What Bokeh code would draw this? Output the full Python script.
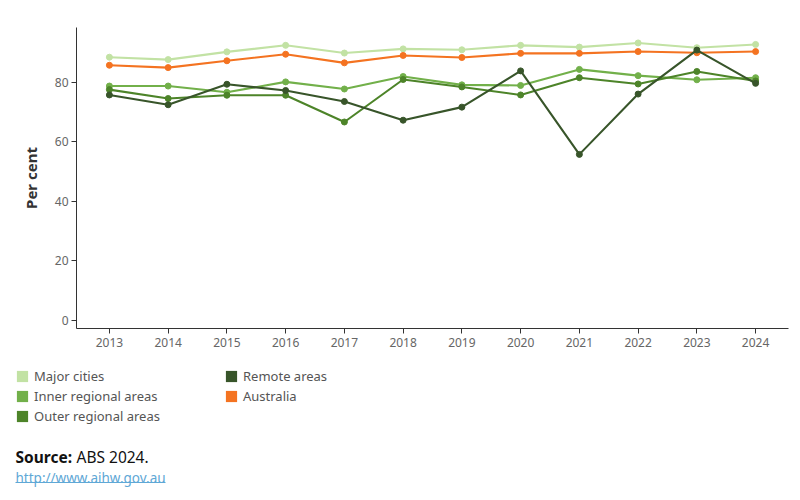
from bokeh.plotting import figure
from bokeh.layouts import column, row
from bokeh.models import (Range1d, FixedTicker, Legend, LegendItem, Label,
                          ColumnDataSource)
from bokeh.embed import file_html
from bokeh.resources import INLINE

years = [2013, 2014, 2015, 2016, 2017, 2018, 2019, 2020, 2021, 2022, 2023, 2024]
major_cities = [88.5, 87.7, 90.3, 92.5, 89.9, 91.3, 91.0, 92.5, 91.9, 93.3, 91.7, 92.8]
inner_regional = [78.8, 78.8, 76.7, 80.2, 77.8, 82.0, 79.2, 79.0, 84.4, 82.3, 80.9, 81.6]
outer_regional = [77.6, 74.6, 75.7, 75.7, 66.7, 81.0, 78.5, 75.8, 81.6, 79.5, 83.7, 80.5]
remote = [75.8, 72.5, 79.4, 77.3, 73.6, 67.3, 71.7, 83.9, 55.8, 76.1, 90.9, 79.7]
australia = [85.8, 85.0, 87.3, 89.5, 86.6, 89.1, 88.4, 89.8, 89.8, 90.4, 90.0, 90.4]
y_ticks = [0, 20, 40, 60, 80]

names = ["Major cities", "Inner regional areas", "Outer regional areas", "Remote areas", "Australia"]
colors = ["#c2e2a4", "#72b04a", "#4d8429", "#38552a", "#f47321"]
series = [major_cities, inner_regional, outer_regional, remote, australia]

FONT = "Noto Sans"

p = figure(width=800, height=360, output_backend="svg", toolbar_location=None,
           x_range=Range1d(2012.44, 2024.56), y_range=Range1d(-2.8, 98.5),
           min_border_left=76, min_border_right=12, min_border_top=27, min_border_bottom=32)
p.outline_line_color = None
p.xgrid.visible = False
p.ygrid.visible = False

draw_order = [0, 1, 2, 4, 3]
for i in draw_order:
    src = ColumnDataSource(dict(x=years, y=series[i]))
    p.line("x", "y", source=src, line_color=colors[i], line_width=2.1)
    p.scatter("x", "y", source=src, size=6, fill_color=colors[i], line_color=colors[i])

for ax in (p.xaxis[0], p.yaxis[0]):
    ax.axis_line_color = "#333333"
    ax.major_tick_line_color = "#333333"
    ax.minor_tick_line_color = None
    ax.major_tick_in = 0
    ax.major_tick_out = 5
    ax.major_label_text_font = FONT
    ax.major_label_text_font_size = "12px"
    ax.major_label_text_color = "#666666"
p.xaxis.ticker = FixedTicker(ticks=years)
p.xaxis.major_label_standoff = 4
p.yaxis.ticker = FixedTicker(ticks=y_ticks)
p.yaxis.major_label_standoff = 3
p.yaxis.axis_label = "Per cent"
p.yaxis.axis_label_text_font = FONT
p.yaxis.axis_label_text_font_size = "15px"
p.yaxis.axis_label_text_font_style = "bold"
p.yaxis.axis_label_text_color = "#333333"
p.yaxis.axis_label_standoff = 11

# lower panel: legend and source, coordinates in pixels from its top-left
q = figure(width=800, height=140, output_backend="svg", toolbar_location=None,
           x_range=Range1d(0, 800), y_range=Range1d(140, 0),
           min_border=0, x_axis_type=None, y_axis_type=None)
q.outline_line_color = None
q.xgrid.visible = False
q.ygrid.visible = False

items = []
for i in range(5):
    # zero-size swatch carriers (draw nothing on the canvas; used for legend squares)
    r = q.quad(left=years, right=years, top=series[i], bottom=series[i],
               fill_color=colors[i], line_color=None)
    items.append(LegendItem(label=names[i], renderers=[r]))
legend = Legend(items=items, location=(15, 75), orientation="vertical", nrows=3,
                glyph_width=14, glyph_height=14, label_height=14, label_standoff=5,
                label_width=188, spacing=2, padding=0, margin=0,
                border_line_color=None, background_fill_alpha=0,
                label_text_font=FONT, label_text_font_size="13px",
                label_text_color="#555555")
q.add_layout(legend, "center")

q.add_layout(Label(x=15, y=96.7, text="Source:",
                   text_font=FONT, text_font_size="15.5px", text_font_style="bold",
                   text_color="#111111", text_baseline="middle"))
q.add_layout(Label(x=76, y=96.7, text="ABS 2024.",
                   text_font=FONT, text_font_size="15.5px",
                   text_color="#111111", text_baseline="middle"))
q.add_layout(Label(x=15, y=117, text="http://www.aihw.gov.au",
                   text_font=FONT, text_font_size="13.5px",
                   text_color="#5fa8d6", text_baseline="middle"))
q.segment(x0=[15], y0=[122], x1=[165], y1=[122], line_color="#5fa8d6", line_width=1)

layout = column(p, row(q), spacing=0)
open("out.html", "w").write(file_html(layout, INLINE))
